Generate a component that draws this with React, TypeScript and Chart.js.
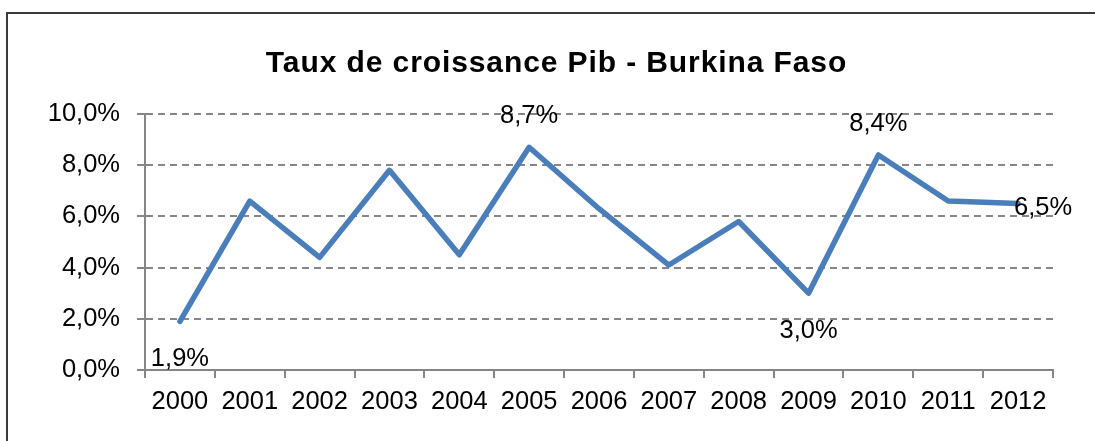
import React, { useEffect, useRef } from 'react';
import { Chart, registerables } from 'chart.js';

Chart.register(...registerables);

const titleText = 'Taux de croissance Pib - Burkina Faso';
const years = ['2000', '2001', '2002', '2003', '2004', '2005', '2006', '2007', '2008', '2009', '2010', '2011', '2012'];
const growth = [1.9, 6.6, 4.4, 7.8, 4.5, 8.7, 6.3, 4.1, 5.8, 3.0, 8.4, 6.6, 6.5];
const labelPlacement: (string | null)[] = [
  'below', null, null, null, null, 'above', null, null, null, 'below', 'above', null, 'right',
];
const yMin = 0;
const yMax = 10;
const yStep = 2;

const FONT = "'Liberation Sans', Arial, sans-serif";
const GRAY = '#868686';
const LINE_BLUE = '#4A7EBB';

const fmt = (v: number) => v.toFixed(1).replace('.', ',') + '%';

const titlePlugin = {
  id: 'customTitle',
  afterDraw(chart: any) {
    const ctx = chart.ctx;
    ctx.save();
    ctx.font = `bold 30px ${FONT}`;
    try { (ctx as any).letterSpacing = '0.9px'; } catch (e) {}
    ctx.fillStyle = '#000';
    ctx.textAlign = 'center';
    ctx.textBaseline = 'alphabetic';
    ctx.fillText(titleText, chart.width / 2 + 0.5, 58);
    ctx.restore();
  },
};

const dataLabelPlugin = {
  id: 'dataLabels',
  afterDatasetsDraw(chart: any) {
    const ctx = chart.ctx;
    const meta = chart.getDatasetMeta(0);
    const fs = 25.5;
    ctx.save();
    ctx.font = `${fs}px ${FONT}`;
    ctx.fillStyle = '#000';
    ctx.textBaseline = 'alphabetic';
    labelPlacement.forEach((pos, i) => {
      if (!pos) return;
      const pt = meta.data[i];
      const text = fmt(growth[i]);
      let x = pt.x;
      let cy = pt.y;
      if (pos === 'below') {
        ctx.textAlign = 'center';
        cy = pt.y + 36;
      } else if (pos === 'above') {
        ctx.textAlign = 'center';
        cy = pt.y - 33;
      } else {
        ctx.textAlign = 'left';
        x = pt.x - 4;
        cy = pt.y + 2;
      }
      ctx.fillText(text, x, cy + 0.358 * fs);
    });
    ctx.restore();
  },
};

export default function App() {
  const canvasRef = useRef<HTMLCanvasElement | null>(null);

  useEffect(() => {
    if (!canvasRef.current) return;
    const chart = new Chart(canvasRef.current, {
      type: 'line',
      data: {
        labels: years,
        datasets: [
          {
            data: growth,
            borderColor: LINE_BLUE,
            backgroundColor: LINE_BLUE,
            borderWidth: 5.5,
            borderJoinStyle: 'round',
            borderCapStyle: 'round',
            pointRadius: 0,
            pointHoverRadius: 0,
            tension: 0,
            fill: false,
            clip: false as any,
          },
        ],
      },
      options: {
        responsive: false,
        animation: false,
        devicePixelRatio: 1,
        events: [],
        layout: { padding: { top: 100, right: 51, left: 0, bottom: 0 } },
        plugins: {
          legend: { display: false },
          title: { display: false },
          tooltip: { enabled: false },
        },
        scales: {
          x: {
            type: 'category',
            offset: true,
            afterFit: (s: any) => { s.height = 84; },
            grid: {
              display: true,
              offset: true,
              drawOnChartArea: false,
              drawTicks: true,
              tickLength: 8,
              tickColor: GRAY,
              tickWidth: 2,
              lineWidth: 2,
              color: GRAY,
            },
            border: { display: true, color: GRAY, width: 2 },
            ticks: {
              color: '#000',
              font: { family: FONT, size: 25.5 },
              padding: 9,
              maxRotation: 0,
              autoSkip: false,
            },
          },
          y: {
            min: yMin,
            max: yMax,
            afterFit: (s: any) => { s.width = 137; },
            grid: {
              display: true,
              drawOnChartArea: true,
              drawTicks: true,
              tickLength: 8,
              lineWidth: 2,
              color: (c: any) => (c.tick && c.tick.value === 0 ? 'rgba(0,0,0,0)' : GRAY),
              tickColor: GRAY,
              tickWidth: 2,
              tickBorderDash: [],
            } as any,
            border: { display: true, color: GRAY, width: 2, dash: [7, 5] },
            ticks: {
              stepSize: yStep,
              color: '#000',
              font: { family: FONT, size: 25.5 },
              padding: 17,
              callback: (v: any) => fmt(Number(v)),
            },
          },
        },
      } as any,
      plugins: [titlePlugin, dataLabelPlugin],
    });
    return () => chart.destroy();
  }, []);

  return (
    <div style={{ position: 'fixed', left: 0, top: 0, width: '100vw', height: '100vh', overflow: 'hidden', background: '#fff' }}>
      <div
        style={{
          position: 'absolute',
          left: 6,
          top: 12,
          width: 1096,
          height: 440,
          border: '2px solid #3a3a3a',
          background: '#fff',
        }}
      >
        <canvas ref={canvasRef} width={1096} height={440} style={{ display: 'block', width: 1096, height: 440 }} />
      </div>
    </div>
  );
}
